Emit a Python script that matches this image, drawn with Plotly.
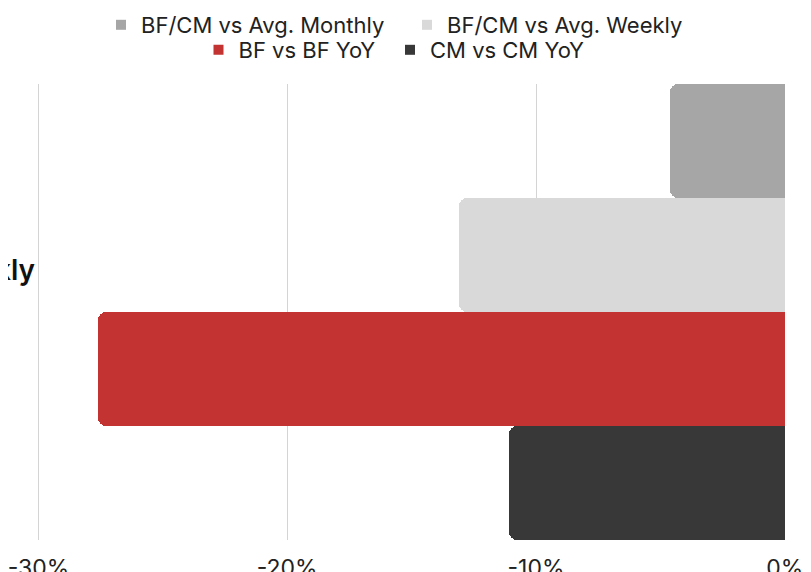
import plotly.graph_objects as go

categories = ["Weekly"]
series_names = ["BF/CM vs Avg. Monthly", "BF/CM vs Avg. Weekly", "BF vs BF YoY", "CM vs CM YoY"]
series_values = [[-4.6], [-13.1], [-27.6], [-11.1]]
series_colors = ["#a6a6a6", "#d9d9d9", "#c23331", "#383838"]
x_tick_vals = [-30, -20, -10, 0]
x_tick_text = ["-30%", "-20%", "-10%", "0%"]

FONT = "Inter"
W, H = 811, 572

# legend entry placement (container px, left edge of each single-entry legend, row center y)
legend_ids = ["legend", "legend2", "legend3", "legend4"]
legend_left = [93, 399, 190.5, 382]
legend_row_y = [17, 17, 42, 42]

fig = go.Figure()
for name, vals, col in zip(series_names, series_values, series_colors):
    fig.add_trace(go.Bar(
        y=categories, x=vals, name=name, orientation="h",
        marker=dict(color=col, line=dict(width=0), cornerradius=8),
        showlegend=False,
    ))
# legend-only entries with square swatches
for name, col, lg in zip(series_names, series_colors, legend_ids):
    fig.add_trace(go.Scatter(
        x=[None], y=[None], mode="markers", name=name, legend=lg,
        marker=dict(symbol="square", size=10, color=col),
        showlegend=True, hoverinfo="skip",
    ))

legend_layout = {}
for lg, lx, ly in zip(legend_ids, legend_left, legend_row_y):
    legend_layout[lg] = dict(
        orientation="h", x=lx / W, xanchor="left", y=1 - ly / H, yanchor="middle",
        xref="container", yref="container",
        font=dict(size=22, family=FONT, color="#222222"),
        itemclick=False, itemdoubleclick=False, bgcolor="rgba(0,0,0,0)",
    )

fig.update_layout(
    width=W, height=H,
    barmode="group", bargap=0, bargroupgap=0,
    plot_bgcolor="white", paper_bgcolor="white",
    margin=dict(l=27.5, r=32.75, t=76, b=40, autoexpand=False),
    font=dict(family=FONT, color="#222222"),
    showlegend=True,
    **legend_layout,
)

fig.update_xaxes(range=[-30.1, 0.05], tickvals=x_tick_vals, ticktext=x_tick_text,
                 showgrid=True, gridcolor="#d4d4d4", gridwidth=1,
                 zeroline=False, showline=False, ticks="",
                 tickfont=dict(size=23, family=FONT, color="#222222"),
                 ticklabelstandoff=12, ticklabeloverflow="allow", automargin=False)
fig.update_yaxes(autorange="reversed", showgrid=False, zeroline=False, showline=False,
                 ticks="", tickfont=dict(size=28, family=FONT, color="#111111", weight=600),
                 ticklabelshift=42, ticklabelstandoff=0, ticklabeloverflow="allow",
                 automargin=False)

fig.write_html("out.html")
